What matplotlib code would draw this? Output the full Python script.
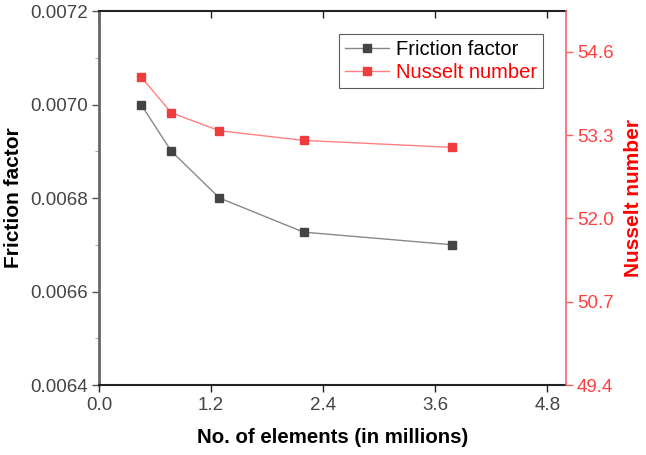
import matplotlib
matplotlib.use("Agg")
import matplotlib.pyplot as plt
from matplotlib.ticker import FixedLocator

plt.rcParams['font.family'] = ['Liberation Sans', 'DejaVu Sans']

elements = [0.45, 0.775, 1.29, 2.19, 3.78]
friction = [0.00700, 0.00690, 0.00680, 0.006727, 0.006700]
nusselt = [54.21, 53.65, 53.37, 53.22, 53.11]

fig = plt.figure(figsize=(6.46, 4.55), dpi=100)
ax = fig.add_axes([99/646, 1-385/455, (566-99)/646, (385-11)/455])
ax2 = ax.twinx()

l1, = ax.plot(elements, friction, color='#888888', lw=1.0, marker='s', ms=6,
              mfc='#444444', mec='#444444', label='Friction factor', zorder=3)
l2, = ax2.plot(elements, nusselt, color='#ff8080', lw=1.0, marker='s', ms=6,
               mfc='#f03c3c', mec='#f03c3c', label='Nusselt number', zorder=3)

ax.set_xlim(0, 5.0)
ax.set_ylim(0.0064, 0.0072)
ax2.set_ylim(49.4, 55.24)

ax.xaxis.set_major_locator(FixedLocator([0.0, 1.2, 2.4, 3.6, 4.8]))
ax.set_xticklabels(['0.0', '1.2', '2.4', '3.6', '4.8'])
ax.yaxis.set_major_locator(FixedLocator([0.0064, 0.0066, 0.0068, 0.0070, 0.0072]))
ax.set_yticklabels(['0.0064', '0.0066', '0.0068', '0.0070', '0.0072'])
ax.yaxis.set_minor_locator(FixedLocator([0.0065, 0.0067, 0.0069, 0.0071]))
ax2.yaxis.set_major_locator(FixedLocator([49.4, 50.7, 52.0, 53.3, 54.6]))
ax2.set_yticklabels(['49.4', '50.7', '52.0', '53.3', '54.6'])

tick_col = '#444444'
ax.tick_params(axis='x', which='major', direction='out', length=5, width=1.0,
               labelsize=13.5, colors='#222222', labelcolor=tick_col, top=True, pad=4)
ax.tick_params(axis='y', which='major', direction='out', length=5, width=1.0,
               labelsize=13.5, colors='#555555', labelcolor=tick_col, pad=3)
ax.tick_params(axis='y', which='minor', direction='out', length=3, width=0.8, colors='#aaaaaa')
ax2.tick_params(axis='y', which='major', direction='out', length=5, width=1.0,
                labelsize=13.5, colors='#ff6060', labelcolor='#ff4040', pad=3)
ax2.tick_params(axis='y', which='minor', right=False)

for t in ax.xaxis.get_major_ticks():
    t.tick2line.set_marker(3)  # TICKDOWN: top ticks point inward
    t.tick2line.set_markersize(5)

ax.spines['left'].set_color('#666666')
ax.spines['left'].set_linewidth(2.0)
ax.spines['bottom'].set_color('#222222')
ax.spines['bottom'].set_linewidth(1.5)
ax.spines['top'].set_color('#222222')
ax.spines['top'].set_linewidth(1.5)
ax.spines['right'].set_visible(False)
for s in ['left', 'top', 'bottom']:
    ax2.spines[s].set_visible(False)
ax2.spines['right'].set_color('#ff6060')
ax2.spines['right'].set_linewidth(1.2)

ax.set_xlabel('No. of elements (in millions)', fontsize=14.7, fontweight='bold', labelpad=10)
ax.set_ylabel('Friction factor', fontsize=15, fontweight='bold', labelpad=5)
ax2.set_ylabel('Nusselt number', fontsize=15, fontweight='bold', color='#ff0000', labelpad=7)

leg = ax.legend(handles=[l1, l2], loc='upper right', bbox_to_anchor=(0.951, 0.9385),
                fontsize=14.5, frameon=True, fancybox=False, borderpad=0.3,
                handlelength=2.2, handletextpad=0.35, labelspacing=0.2, borderaxespad=0)
leg.get_frame().set_edgecolor('#333333')
leg.get_frame().set_linewidth(0.8)
leg.get_texts()[1].set_color('#ff0000')
leg.set_zorder(10)

fig.savefig('out.png', dpi=100)
